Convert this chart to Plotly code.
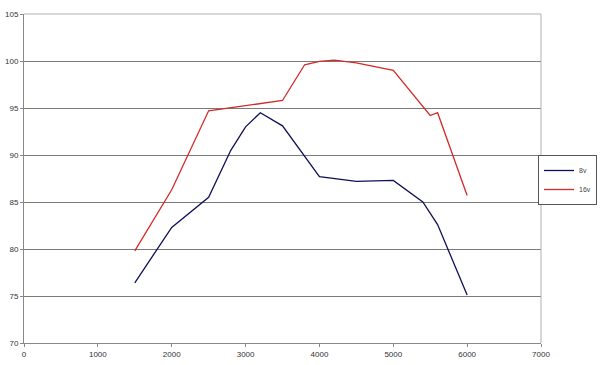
import plotly.graph_objects as go

rpm_8v = [1500, 2000, 2500, 2800, 3000, 3200, 3500, 4000, 4500, 5000, 5400, 5600, 6000]
val_8v = [76.4, 82.3, 85.5, 90.5, 93.0, 94.5, 93.1, 87.7, 87.2, 87.3, 85.0, 82.6, 75.1]

rpm_16v = [1500, 2000, 2500, 3500, 3800, 4000, 4200, 4500, 5000, 5500, 5600, 6000]
val_16v = [79.8, 86.3, 94.7, 95.8, 99.6, 99.95, 100.1, 99.8, 99.0, 94.2, 94.5, 85.7]

x_ticks = [0, 1000, 2000, 3000, 4000, 5000, 6000, 7000]
y_ticks = [70, 75, 80, 85, 90, 95, 100, 105]

fig = go.Figure()
fig.add_trace(go.Scatter(x=rpm_8v, y=val_8v, mode="lines", name="8v",
                         line=dict(color="#10105a", width=1.3)))
fig.add_trace(go.Scatter(x=rpm_16v, y=val_16v, mode="lines", name="16v",
                         line=dict(color="#d42a2a", width=1.3)))

fig.update_layout(
    width=601, height=365,
    margin=dict(l=24, r=60, t=14, b=22, autoexpand=False),
    paper_bgcolor="white", plot_bgcolor="white",
    font=dict(family="Liberation Sans, Arial", size=8, color="#333"),
    showlegend=True,
    legend=dict(x=(597 - 24) / 517, y=(343 - 180) / 329,
                xanchor="right", yanchor="middle",
                bordercolor="#555", borderwidth=1, bgcolor="white",
                font=dict(size=7, color="#444"), itemwidth=30,
                tracegroupgap=0),
    xaxis=dict(range=[0, 7000], tickvals=x_ticks, showgrid=False,
               ticks="outside", ticklen=3, tickcolor="#888",
               showline=True, linecolor="#888", linewidth=1, mirror=False,
               zeroline=False, automargin=False,
               tickfont=dict(size=8, color="#333")),
    yaxis=dict(range=[70, 105], tickvals=y_ticks, showgrid=True,
               gridcolor="#7a7a7a", gridwidth=1,
               ticks="outside", ticklen=3, tickcolor="#888",
               showline=True, linecolor="#888", linewidth=1,
               zeroline=False, automargin=False,
               tickfont=dict(size=8, color="#333")),
)
# light plot-area border on top and right
fig.add_shape(type="line", xref="paper", yref="paper", x0=0, x1=1, y0=1, y1=1,
              line=dict(color="#b0b0b0", width=1))
fig.add_shape(type="line", xref="paper", yref="paper", x0=1, x1=1, y0=0, y1=1,
              line=dict(color="#b0b0b0", width=1))

fig.write_html(
    "out.html",
    config={"displayModeBar": False},
    post_script="document.body.style.margin='0';document.body.style.padding='0';",
)
